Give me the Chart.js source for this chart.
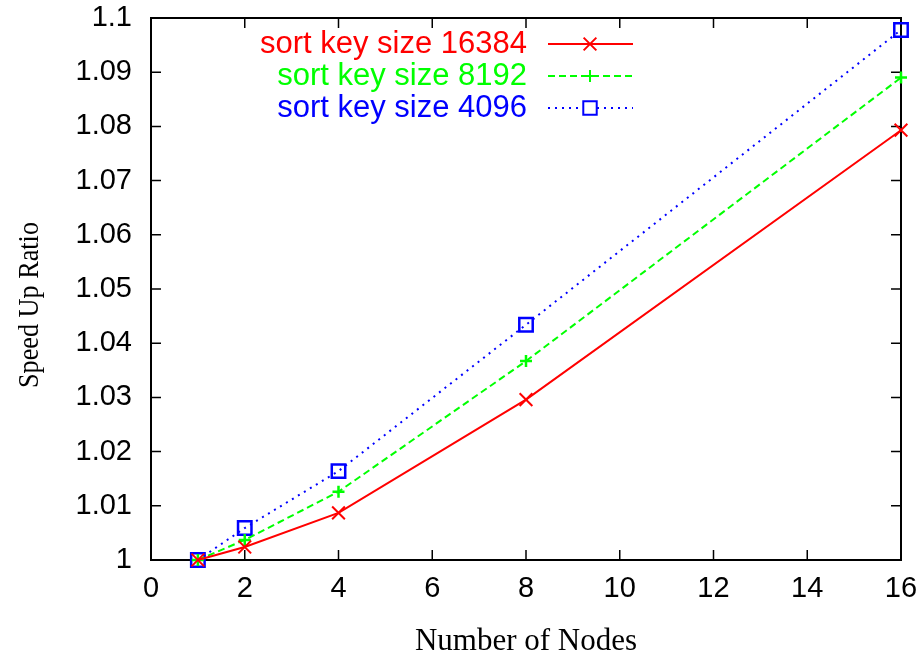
<!DOCTYPE html>
<html>
<head>
<meta charset="utf-8">
<script src="https://cdn.jsdelivr.net/npm/chart.js@4"></script>
<style>
  html, body { margin: 0; padding: 0; background: #fff; }
  #chart-container { width: 921px; height: 657px; }
</style>
</head>
<body>
<div id="chart-container"><canvas id="speedup-chart"></canvas></div>
<script>
// node counts on the x axis
var nodes = [1, 2, 4, 8, 16];

// speed up ratio per sort key size
var ratio16384 = [1.0, 1.0024, 1.0087, 1.0296, 1.0793];
var ratio8192 = [1.0, 1.0037, 1.0126, 1.0367, 1.0890];
var ratio4096 = [1.0, 1.0059, 1.0164, 1.0434, 1.0978];

var seriesLabels = ['sort key size 16384', 'sort key size 8192', 'sort key size 4096'];
var yTitle = 'Speed Up Ratio';
var xTitle = 'Number of Nodes';

function toPoints(values) {
    return nodes.map(function(n, i) { return { x: n, y: values[i] }; });
}

// gnuplot style: ticks pointing inwards on all four sides
var innerTicks = {
    id: 'innerTicks',
    beforeDatasetsDraw: function(chart) {
        var ctx = chart.ctx;
        var a = chart.chartArea;
        var xs = chart.scales.x, ys = chart.scales.y;
        var len = 10;
        ctx.save();
        ctx.strokeStyle = '#000';
        ctx.lineWidth = 1.5;
        ctx.beginPath();
        xs.ticks.forEach(function(t) {
            var px = xs.getPixelForValue(t.value);
            ctx.moveTo(px, a.bottom); ctx.lineTo(px, a.bottom - len);
            ctx.moveTo(px, a.top); ctx.lineTo(px, a.top + len);
        });
        ys.ticks.forEach(function(t) {
            var py = ys.getPixelForValue(t.value);
            ctx.moveTo(a.left, py); ctx.lineTo(a.left + len, py);
            ctx.moveTo(a.right, py); ctx.lineTo(a.right - len, py);
        });
        ctx.stroke();
        ctx.lineWidth = 2;
        ctx.strokeRect(a.left, a.top, a.right - a.left, a.bottom - a.top);

        // rotated y title, squeezed like the gnuplot output
        ctx.fillStyle = '#000';
        ctx.font = '30px "Liberation Serif", "Times New Roman", serif';
        ctx.textAlign = 'center';
        ctx.textBaseline = 'middle';
        ctx.translate(30, 305);
        ctx.rotate(-Math.PI / 2);
        ctx.fillText(yTitle, 0, 0, 166);
        ctx.restore();
    }
};

// key in the top left: text right aligned, sample line on the right
var gnuKey = {
    id: 'gnuKey',
    afterDatasetsDraw: function(chart) {
        var ctx = chart.ctx;
        var textRight = 527, lineStart = 548, lineEnd = 633, markX = 590;
        var rows = [44, 76, 108];
        ctx.save();
        ctx.font = '31px "Liberation Sans", Arial, sans-serif';
        ctx.textAlign = 'right';
        ctx.textBaseline = 'middle';
        chart.data.datasets.forEach(function(ds, i) {
            var y = rows[i];
            ctx.fillStyle = ds.borderColor;
            ctx.fillText(ds.label, textRight, y);
            ctx.strokeStyle = ds.borderColor;
            ctx.lineWidth = 2;
            ctx.setLineDash(ds.borderDash || []);
            ctx.beginPath();
            ctx.moveTo(lineStart, y);
            ctx.lineTo(lineEnd, y);
            ctx.stroke();
            ctx.setLineDash([]);
            ctx.fillStyle = '#fff';
            Chart.helpers.drawPoint(ctx, {
                pointStyle: ds.pointStyle,
                radius: ds.pointRadius,
                borderWidth: 2
            }, markX, y);
        });
        ctx.restore();
    }
};

var ctx = document.getElementById('speedup-chart');
var chart = new Chart(ctx, {
    type: 'line',
    data: {
        datasets: [
            {
                label: seriesLabels[0],
                data: toPoints(ratio16384),
                borderColor: '#ff0000',
                backgroundColor: '#ff0000',
                borderWidth: 2,
                pointStyle: 'crossRot',
                pointRadius: 9,
                pointBorderWidth: 2,
                clip: false
            },
            {
                label: seriesLabels[1],
                data: toPoints(ratio8192),
                borderColor: '#00ff00',
                backgroundColor: '#00ff00',
                borderWidth: 2,
                borderDash: [7, 4],
                pointStyle: 'cross',
                pointRadius: 6,
                pointBorderWidth: 2.5,
                clip: false
            },
            {
                label: seriesLabels[2],
                data: toPoints(ratio4096),
                borderColor: '#0000ff',
                backgroundColor: 'rgba(0,0,0,0)',
                borderWidth: 2,
                borderDash: [2, 5],
                pointStyle: 'rect',
                pointRadius: 9.5,
                pointBorderWidth: 2.5,
                clip: false
            }
        ]
    },
    options: {
        responsive: true,
        maintainAspectRatio: false,
        animation: false,
        layout: { padding: { left: 0, right: 20, top: 18, bottom: 0 } },
        plugins: {
            legend: { display: false },
            tooltip: { enabled: false }
        },
        scales: {
            x: {
                type: 'linear',
                min: 0,
                max: 16,
                ticks: {
                    stepSize: 2,
                    color: '#000',
                    padding: 12,
                    font: { family: '"Liberation Sans", Arial, sans-serif', size: 29 }
                },
                grid: { display: false, drawTicks: false },
                border: { display: false },
                title: {
                    display: true,
                    text: xTitle,
                    color: '#000',
                    padding: { top: 0, bottom: 0 },
                    font: { family: '"Liberation Serif", "Times New Roman", serif', size: 31, lineHeight: 1 }
                },
                afterFit: function(scale) {
                    scale.height = 97;
                    scale.paddingLeft = 0;
                    scale.paddingRight = 0;
                }
            },
            y: {
                min: 1,
                max: 1.1,
                ticks: {
                    stepSize: 0.01,
                    color: '#000',
                    padding: 19,
                    font: { family: '"Liberation Sans", Arial, sans-serif', size: 29 },
                    callback: function(v) { return String(parseFloat(v.toFixed(2))); }
                },
                grid: { display: false, drawTicks: false },
                border: { display: false },
                afterFit: function(scale) {
                    scale.width = 151;
                    scale.paddingTop = 0;
                    scale.paddingBottom = 0;
                }
            }
        }
    },
    plugins: [innerTicks, gnuKey]
});
</script>
</body>
</html>
